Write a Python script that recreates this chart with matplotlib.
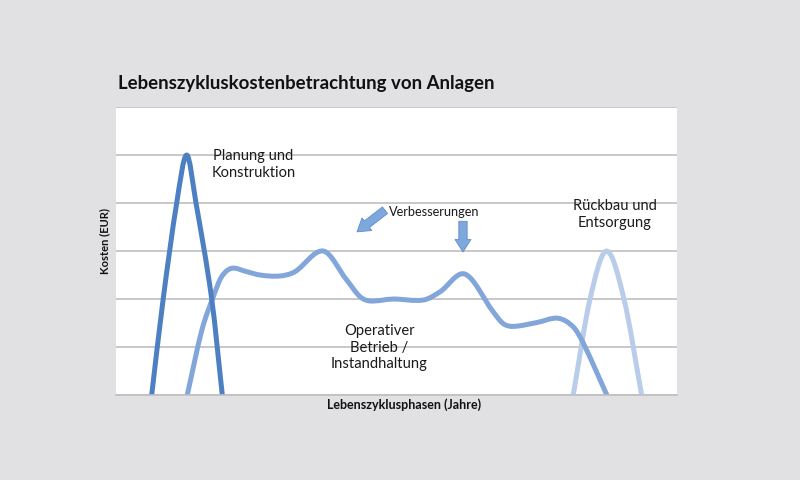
import matplotlib.pyplot as plt
from matplotlib.path import Path
from matplotlib.patches import PathPatch

plt.rcParams['font.family'] = ['Lato', 'DejaVu Sans']

# Lebenszyklusphasen (x, 0..100) und Kosten (y, 0..6)
planung_x = [6.36, 8.41, 10.82, 12.6, 14.26, 17.06, 18.95]
planung_y = [0.0, 2.0, 4.0, 5.0, 4.0, 2.0, 0.0]

betrieb_x = [12.7, 15.3, 17.35, 18.8, 20.6, 23.3, 25.7, 29.2, 31.9, 36.95,
             41.1, 43.5, 45.3, 49.4, 54.8, 57.75, 62.2, 67.2, 69.0,
             70.8, 75.0, 78.8, 81.5, 83.3, 87.5]
betrieb_y = [0.0, 1.35, 2.05, 2.46, 2.64, 2.57, 2.50, 2.48, 2.57, 3.00,
             2.40, 2.05, 1.96, 2.00, 1.98, 2.15, 2.52, 1.74, 1.49,
             1.43, 1.51, 1.60, 1.42, 1.08, 0.0]

rueckbau_x = [81.5, 84.5, 87.45, 90.55, 93.7]
rueckbau_y = [0.0, 2.0, 3.0, 2.0, 0.0]

# Pfeile "Verbesserungen": (Start, Spitze)
arrows = [((47.95, 3.85), (42.96, 3.40)),
          ((61.85, 3.62), (61.85, 2.98))]

BG = '#e1e1e3'


def smooth_path(xs, ys):
    # geglaettete Linie: kubische Hermite-Segmente in x als Bezier-Pfad
    n = len(xs)
    slopes = []
    for i in range(n):
        a, b = max(i - 1, 0), min(i + 1, n - 1)
        slopes.append((ys[b] - ys[a]) / (xs[b] - xs[a]))
    verts = [(xs[0], ys[0])]
    codes = [Path.MOVETO]
    for i in range(n - 1):
        h = (xs[i + 1] - xs[i]) / 3
        verts += [(xs[i] + h, ys[i] + slopes[i] * h),
                  (xs[i + 1] - h, ys[i + 1] - slopes[i + 1] * h),
                  (xs[i + 1], ys[i + 1])]
        codes += [Path.CURVE4] * 3
    return Path(verts, codes)


fig = plt.figure(figsize=(8, 4.8), dpi=100, facecolor=BG)
ax = fig.add_axes([0.145, 0.177, 0.70125, 0.6])
ax.set_facecolor('white')
ax.set_xlim(0, 100)
ax.set_ylim(0, 6)

ax.set_yticks(range(0, 7))
ax.set_yticklabels([])
ax.set_xticks([])
ax.tick_params(axis='y', length=0)
ax.grid(axis='y', color='#bfbfbf', linewidth=1.2)
ax.set_axisbelow(True)
for side in ['left', 'right', 'top']:
    ax.spines[side].set_visible(False)
ax.spines['bottom'].set_color('#bfbfbf')
ax.spines['bottom'].set_linewidth(1.2)

for xs, ys, col in [(rueckbau_x, rueckbau_y, '#b9cdea'),
                    (betrieb_x, betrieb_y, '#82a6da'),
                    (planung_x, planung_y, '#4d80c2')]:
    ax.add_patch(PathPatch(smooth_path(xs, ys), fill=False, edgecolor=col,
                           linewidth=3.6, capstyle='butt', joinstyle='round'))

for start, tip in arrows:
    ax.annotate('', xy=tip, xytext=start,
                arrowprops=dict(arrowstyle='simple,head_width=1.15,head_length=0.9,tail_width=0.6',
                                fc='#7ea7dc', ec='#5f8fcc', lw=0.6, shrinkA=0, shrinkB=0))

ax.text(24.5, 4.805, 'Planung und\nKonstruktion', ha='center', va='center',
        fontsize=10.5, linespacing=1.2, color='#1a1a1a')
ax.text(56.8, 3.81, 'Verbesserungen', ha='center', va='center',
        fontsize=9.2, color='#1a1a1a')
ax.text(88.9, 3.76, 'Rückbau und\nEntsorgung', ha='center', va='center',
        fontsize=10.5, linespacing=1.2, color='#1a1a1a')
ax.text(46.9, 0.99, 'Operativer\nBetrieb /\nInstandhaltung', ha='center', va='center',
        fontsize=10.6, linespacing=1.27, color='#1a1a1a')

fig.text(0.1475, 0.827, 'Lebenszykluskostenbetrachtung von Anlagen',
         fontsize=13.4, fontweight='bold', ha='left', va='center', color='#111111')
fig.text(0.131, 0.498, 'Kosten (EUR)', rotation=90, fontsize=8,
         fontweight='bold', ha='center', va='center', color='#111111')
fig.text(0.505, 0.156, 'Lebenszyklusphasen (Jahre)', fontsize=9,
         fontweight='bold', ha='center', va='center', color='#111111')

fig.savefig('out.png', dpi=100, facecolor=BG)
